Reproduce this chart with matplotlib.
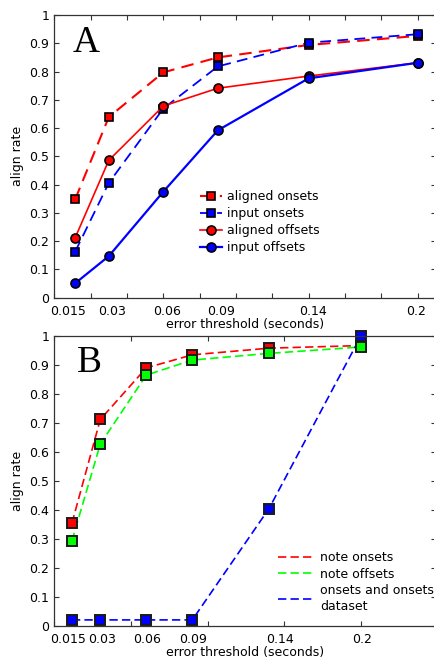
import matplotlib
matplotlib.use("Agg")
import matplotlib.pyplot as plt
from matplotlib.ticker import MultipleLocator

# ---------------- data ----------------
thresholds = [0.0115, 0.03, 0.06, 0.09, 0.14, 0.2]

# Panel A
a_aligned_onsets = [0.348, 0.639, 0.797, 0.850, 0.894, 0.926]
a_input_onsets = [0.163, 0.406, 0.669, 0.818, 0.902, 0.932]
a_aligned_offsets = [0.212, 0.486, 0.678, 0.741, 0.784, 0.831]
a_input_offsets = [0.051, 0.147, 0.375, 0.592, 0.776, 0.831]
a_labels = ["aligned onsets", "input onsets", "aligned offsets", "input offsets"]

# Panel B
b_note_onsets = [0.354, 0.712, 0.890, 0.935, 0.958, 0.967]
b_note_offsets = [0.293, 0.627, 0.865, 0.917, 0.940, 0.962]
b_dataset = [0.02, 0.02, 0.02, 0.02, 0.404, 1.0]
b_labels = ["note onsets", "note offsets", "onsets and onsets\ndataset"]

# tick labels
xtick_labels = ["0.015", "0.03", "0.06", "0.09", "0.14", "0.2"]
a_xtick_pos = [0.0077, 0.032, 0.062, 0.092, 0.1426, 0.1994]
b_xtick_pos = [0.0091, 0.0309, 0.0602, 0.0902, 0.147, 0.2004]
ytick_vals = [0, 0.1, 0.2, 0.3, 0.4, 0.5, 0.6, 0.7, 0.8, 0.9, 1]
ytick_labels = ["0", "0.1", "0.2", "0.3", "0.4", "0.5", "0.6", "0.7", "0.8", "0.9", "1"]

plt.rcParams['font.family'] = ['DejaVu Sans']
FS = 9

fig = plt.figure(figsize=(4.35, 6.61), dpi=100)
W, H = 435, 661
L, R = 54.3, 436.0
AW = R - L

def axes_px(left, top, right, bottom):
    return fig.add_axes([left / W, 1 - bottom / H, (right - left) / W, (bottom - top) / H])

axA = axes_px(L, 15, R, 297.7)
axB = axes_px(L, 336, R, 625.7)

def style_axes(ax, xlim, minor_step, xpos):
    ax.set_xlim(*xlim)
    ax.set_ylim(0, 1)
    ax.set_xticks(xpos, xtick_labels)
    ax.xaxis.set_minor_locator(MultipleLocator(minor_step))
    ax.set_yticks(ytick_vals, ytick_labels)
    ax.tick_params(axis='x', which='major', length=0, pad=5, labelsize=FS)
    ax.tick_params(axis='x', which='minor', direction='in', length=3.5, width=0.8,
                   top=True, bottom=True, color='#333333')
    ax.tick_params(axis='y', which='major', direction='in', length=3.5, width=0.8,
                   left=True, right=True, pad=3.5, labelsize=FS, color='#333333')
    for s in ax.spines.values():
        s.set_color('#333333')
        s.set_linewidth(0.9)
    ax.set_ylabel("align rate", fontsize=FS, labelpad=4)
    ax.set_xlabel("error threshold (seconds)", fontsize=FS, labelpad=0)

# ---------------- Panel A ----------------
style_axes(axA, (0, AW / 1816.7), 0.02, a_xtick_pos)
mk = dict(markeredgecolor='black', markeredgewidth=1.2, clip_on=False)
axA.plot(thresholds, a_aligned_onsets, color='#ff0000', lw=1.5, dashes=(6, 3.5),
         marker='s', markersize=5.5, markerfacecolor='#ff0000', label=a_labels[0], **mk)
axA.plot(thresholds, a_input_onsets, color='#0000ff', lw=1.3, dashes=(6, 3.5),
         marker='s', markersize=5.5, markerfacecolor='#0000ff', label=a_labels[1], **mk)
axA.plot(thresholds, a_aligned_offsets, color='#ff0000', lw=1.2,
         marker='o', markersize=6.5, markerfacecolor='#ff0000', label=a_labels[2], **mk)
axA.plot(thresholds, a_input_offsets, color='#0000ff', lw=1.6,
         marker='o', markersize=6.5, markerfacecolor='#0000ff', label=a_labels[3], **mk)
axA.text((86 - L) / AW, (297.7 - 43) / 282.7, "A", transform=axA.transAxes,
         family='Liberation Serif', fontsize=27, ha='center', va='center')
axA.legend(loc='upper left', bbox_to_anchor=((200 - L) / AW, (297.7 - 190) / 282.7),
           frameon=False, fontsize=FS, borderpad=0, borderaxespad=0,
           handlelength=1.75, handletextpad=0.45, labelspacing=0.32)

# ---------------- Panel B ----------------
style_axes(axB, (0, AW / 1533.3), 0.05, b_xtick_pos)
lB = []
lB += axB.plot(thresholds, b_note_onsets, color='#ff0000', lw=1.2, dashes=(5, 2.5), label=b_labels[0])
lB += axB.plot(thresholds, b_note_offsets, color='#00ff00', lw=1.2, dashes=(5, 2.5), label=b_labels[1])
lB += axB.plot(thresholds, b_dataset, color='#0000ff', lw=1.2, dashes=(5, 2.5), label=b_labels[2])
mkB = dict(ls='none', marker='s', markersize=6.5, markeredgecolor='#1a1a1a',
           markeredgewidth=1.4, clip_on=False)
axB.plot(thresholds, b_note_onsets, markerfacecolor='#ff0000', **mkB)
axB.plot(thresholds, b_note_offsets, markerfacecolor='#00ff00', **mkB)
axB.plot(thresholds, b_dataset, markerfacecolor='#0000ff', **mkB)
axB.text((89 - L) / AW, (625.7 - 363) / 289.7, "B", transform=axB.transAxes,
         family='Liberation Serif', fontsize=27, ha='center', va='center')
axB.legend(handles=lB, loc='upper left',
           bbox_to_anchor=((278 - L) / AW, (625.7 - 551) / 289.7),
           frameon=False, fontsize=FS, borderpad=0, borderaxespad=0,
           handlelength=2.8, handletextpad=0.6, labelspacing=0.3)

fig.savefig("out.png", dpi=100)
